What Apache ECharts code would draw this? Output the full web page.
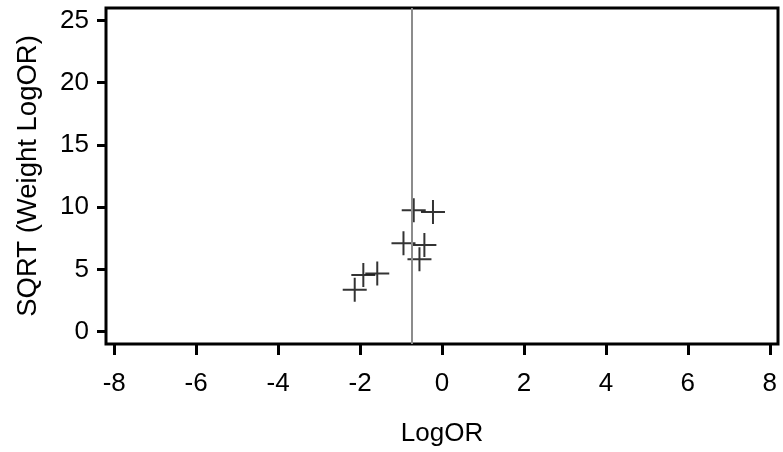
<!DOCTYPE html>
<html>
<head>
<meta charset="utf-8">
<script src="https://cdn.jsdelivr.net/npm/echarts@6/dist/echarts.min.js"></script>
<style>html,body{margin:0;padding:0;background:#fff}#c{width:783px;height:452px}</style>
</head>
<body>
<div id="c"></div>
<script>
const logOR = [-0.69, -0.22, -0.94, -0.43, -0.55, -1.92, -1.58, -2.13];
const sqrtWeight = [9.74, 9.60, 7.09, 6.96, 5.81, 4.55, 4.66, 3.35];
const xTicks = [-8, -6, -4, -2, 0, 2, 4, 6, 8];
const yTicks = [0, 5, 10, 15, 20, 25];
const refLine = -0.73;

const points = logOR.map((x, i) => [x, sqrtWeight[i]]);
const font = '"Liberation Sans", Arial, sans-serif';
const chart = echarts.init(document.getElementById('c'), null, {renderer: 'canvas'});
chart.setOption({
  animation: false,
  grid: {left: 106, right: 5, top: 8, bottom: 107, show: true, borderColor: '#000', borderWidth: 3, backgroundColor: 'transparent'},
  xAxis: {
    type: 'value', min: -8.2, max: 8.2,
    name: 'LogOR', nameLocation: 'middle', nameGap: 77,
    nameTextStyle: {fontFamily: font, fontSize: 26, color: '#000'},
    axisLine: {show: false, onZero: false},
    axisTick: {show: true, length: 11, lineStyle: {color: '#000', width: 3}, customValues: xTicks},
    axisLabel: {fontFamily: font, fontSize: 26, color: '#000', margin: 27, customValues: xTicks},
    splitLine: {show: false}
  },
  yAxis: {
    type: 'value', min: -1, max: 26,
    name: 'SQRT (Weight LogOR)', nameLocation: 'middle', nameGap: 64,
    nameTextStyle: {fontFamily: font, fontSize: 27.5, color: '#000'},
    axisLine: {show: false, onZero: false},
    axisTick: {show: true, length: 9, lineStyle: {color: '#000', width: 3}, customValues: yTicks},
    axisLabel: {fontFamily: font, fontSize: 26, color: '#000', margin: 17, customValues: yTicks},
    splitLine: {show: false}
  },
  series: [{
    type: 'scatter',
    data: points,
    symbol: 'path://M0,-1L0,1M-1,0L1,0',
    symbolSize: 24,
    itemStyle: {color: 'none', borderColor: '#000', borderWidth: 2},
    markLine: {
      silent: true, symbol: 'none', label: {show: false},
      lineStyle: {color: '#8c8c8c', width: 2, type: 'solid'},
      data: [{xAxis: refLine}]
    }
  }]
});
</script>
</body>
</html>
